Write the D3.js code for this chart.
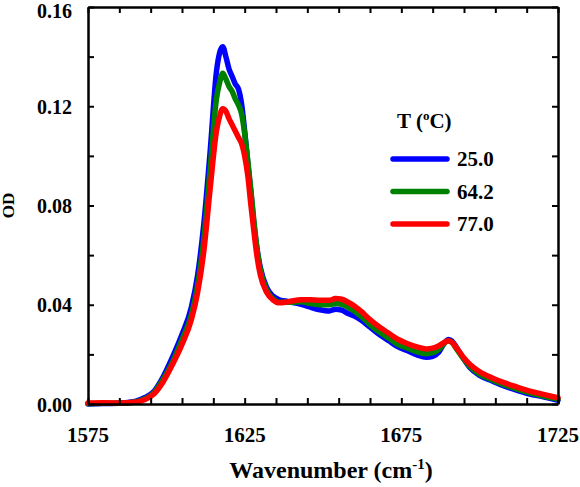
<!DOCTYPE html>
<html>
<head>
<meta charset="utf-8">
<script src="https://cdn.jsdelivr.net/npm/d3@7"></script>
<style>
  html, body { margin: 0; padding: 0; background: #fff; }
  svg { display: block; }
  svg text { font-family: "Liberation Serif", "Times New Roman", Times, serif; font-weight: 700; fill: #000; }
</style>
</head>
<body>
<svg id="chart" width="580" height="487"></svg>
<script>
// ---- data ----
const wavenumber = [1575, 1580, 1585, 1590, 1593, 1596, 1599, 1602, 1605, 1608, 1610, 1612, 1614, 1616, 1617, 1618, 1619, 1620, 1621, 1622, 1623, 1624, 1625, 1626, 1627, 1628, 1629, 1630, 1632, 1634, 1636, 1638, 1640, 1643, 1646, 1649, 1652, 1654, 1656, 1658, 1660, 1662, 1665, 1668, 1671, 1674, 1677, 1680, 1683, 1685, 1687, 1689, 1690, 1691, 1693, 1695, 1697, 1700, 1704, 1708, 1712, 1716, 1720, 1725];
const od25 = [0.0, 0.0002, 0.0003, 0.001, 0.0025, 0.005, 0.011, 0.019, 0.028, 0.039, 0.052, 0.073, 0.102, 0.134, 0.1415, 0.144, 0.140, 0.135, 0.132, 0.129, 0.127, 0.121, 0.110, 0.097, 0.085, 0.072, 0.062, 0.055, 0.047, 0.0435, 0.042, 0.0415, 0.041, 0.0402, 0.039, 0.038, 0.0375, 0.0382, 0.0378, 0.0365, 0.0355, 0.034, 0.031, 0.028, 0.0255, 0.023, 0.0215, 0.0198, 0.0188, 0.0192, 0.021, 0.025, 0.026, 0.0255, 0.022, 0.018, 0.0145, 0.0115, 0.0093, 0.0072, 0.0055, 0.004, 0.003, 0.0015];
const od642 = [0.0002, 0.0003, 0.0003, 0.0008, 0.002, 0.0045, 0.010, 0.017, 0.026, 0.036, 0.048, 0.067, 0.095, 0.123, 0.1295, 0.1333, 0.131, 0.128, 0.126, 0.123, 0.1205, 0.117, 0.109, 0.098, 0.086, 0.073, 0.062, 0.054, 0.046, 0.0425, 0.041, 0.041, 0.041, 0.0412, 0.0405, 0.040, 0.040, 0.0405, 0.0402, 0.039, 0.0375, 0.0355, 0.032, 0.029, 0.0265, 0.024, 0.0225, 0.021, 0.0203, 0.0207, 0.022, 0.0248, 0.0255, 0.025, 0.0215, 0.018, 0.015, 0.012, 0.0097, 0.0077, 0.006, 0.0045, 0.0033, 0.002];
const od770 = [0.0004, 0.0005, 0.0004, 0.0007, 0.0017, 0.004, 0.009, 0.016, 0.024, 0.034, 0.045, 0.062, 0.087, 0.110, 0.116, 0.119, 0.118, 0.115, 0.1125, 0.110, 0.1075, 0.105, 0.100, 0.092, 0.080, 0.069, 0.059, 0.052, 0.045, 0.042, 0.0408, 0.041, 0.0415, 0.042, 0.042, 0.0418, 0.0418, 0.0425, 0.0422, 0.041, 0.0395, 0.0375, 0.034, 0.031, 0.0285, 0.026, 0.0243, 0.023, 0.0222, 0.0225, 0.0235, 0.025, 0.0255, 0.025, 0.022, 0.0185, 0.0158, 0.013, 0.0105, 0.0085, 0.0068, 0.0052, 0.004, 0.0025];
const seriesNames = ["25.0", "64.2", "77.0"];
const seriesColors = ["#0000ff", "#008000", "#ff0000"];
const xTickLabels = [1575, 1625, 1675, 1725];
const yTickLabels = [0.00, 0.04, 0.08, 0.12, 0.16];

// ---- layout ----
const FONT = "'Liberation Serif', 'Times New Roman', Times, serif";
const svg = d3.select("#chart");
const L = 88, R = 558, T = 7, B = 404;
const x = d3.scaleLinear().domain([1575, 1725]).range([L, R]);
const y = d3.scaleLinear().domain([0, 0.16]).range([B, T]);

const seriesVals = [od25, od642, od770];
const line = d3.line()
  .x(d => x(d[0]))
  .y(d => y(d[1]))
  .curve(d3.curveMonotoneX);

seriesVals.forEach((vals, i) => {
  svg.append("path")
    .datum(wavenumber.map((w, j) => [w, vals[j]]))
    .attr("fill", "none")
    .attr("stroke", seriesColors[i])
    .attr("stroke-width", 5.5)
    .attr("stroke-linejoin", "round")
    .attr("stroke-linecap", "round")
    .attr("d", line);
});

// ---- axes (boxed, inward ticks) ----
const xMinor = d3.range(1575, 1726, 10);
const yMinor = d3.range(0, 0.1601, 0.02);
const tickLen = 6;

const gBottom = svg.append("g").attr("transform", `translate(0,${B})`)
  .call(d3.axisBottom(x).tickValues(xMinor).tickSizeInner(-tickLen).tickSizeOuter(0).tickFormat(""));
const gTop = svg.append("g").attr("transform", `translate(0,${T})`)
  .call(d3.axisTop(x).tickValues(xMinor).tickSizeInner(-tickLen).tickSizeOuter(0).tickFormat(""));
const gLeft = svg.append("g").attr("transform", `translate(${L},0)`)
  .call(d3.axisLeft(y).tickValues(yMinor).tickSizeInner(-tickLen).tickSizeOuter(0).tickFormat(""));
const gRight = svg.append("g").attr("transform", `translate(${R},0)`)
  .call(d3.axisRight(y).tickValues(yMinor).tickSizeInner(-tickLen).tickSizeOuter(0).tickFormat(""));
[gBottom, gTop, gLeft, gRight].forEach(g => {
  g.selectAll("path.domain").attr("stroke", "#000").attr("stroke-width", 2.5);
  g.selectAll(".tick line").attr("stroke", "#000").attr("stroke-width", 2);
});

// tick labels
svg.append("g").selectAll("text").data(xTickLabels).join("text")
  .attr("x", d => x(d)).attr("y", 442)
  .attr("text-anchor", "middle")
  .attr("font-family", FONT).attr("font-weight", "bold")
  .attr("font-size", 21)
  .text(d => d);
svg.append("g").selectAll("text").data(yTickLabels).join("text")
  .attr("x", 72).attr("y", d => Math.max(y(d) + 7.5, 18))
  .attr("text-anchor", "end")
  .attr("font-family", FONT).attr("font-weight", "bold")
  .attr("font-size", 20)
  .text(d => d.toFixed(2));

// axis titles
const xt = svg.append("text")
  .attr("x", (L + R) / 2 + 8).attr("y", 478)
  .attr("text-anchor", "middle")
  .attr("font-family", FONT).attr("font-weight", "bold")
  .attr("font-size", 24);
xt.append("tspan").text("Wavenumber (cm");
xt.append("tspan").attr("font-size", 15).attr("dy", -9).text("-1");
xt.append("tspan").attr("dy", 9).text(")");

svg.append("text")
  .attr("transform", `translate(14,${(T + B) / 2}) rotate(-90)`)
  .attr("text-anchor", "middle")
  .attr("font-family", FONT).attr("font-weight", "bold")
  .attr("font-size", 17)
  .text("OD");

// legend
const lt = svg.append("text").attr("x", 397).attr("y", 128)
  .attr("font-family", FONT).attr("font-weight", "bold")
  .attr("font-size", 21);
lt.append("tspan").text("T (");
lt.append("tspan").attr("font-size", 13).attr("dy", -8).text("o");
lt.append("tspan").attr("dy", 8).text("C)");

seriesNames.forEach((name, i) => {
  const ly = 159 + i * 32.5;
  svg.append("line")
    .attr("x1", 393).attr("x2", 447)
    .attr("y1", ly).attr("y2", ly)
    .attr("stroke", seriesColors[i])
    .attr("stroke-width", 5.5)
    .attr("stroke-linecap", "round");
  svg.append("text")
    .attr("x", 457).attr("y", ly + 7)
    .attr("font-family", FONT).attr("font-weight", "bold")
    .attr("font-size", 21)
    .text(name);
});
</script>
</body>
</html>
